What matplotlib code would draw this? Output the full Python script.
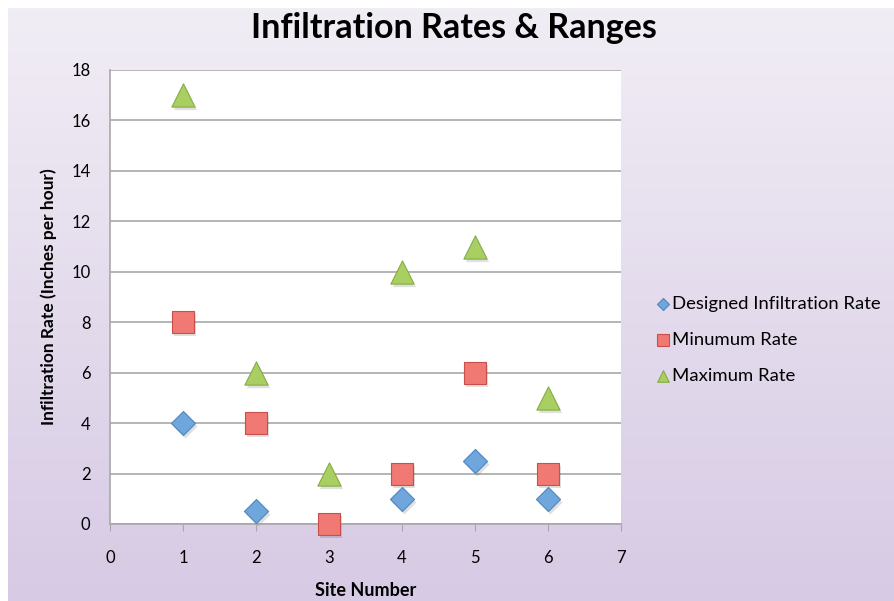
import numpy as np
import matplotlib
matplotlib.use("Agg")
import matplotlib.pyplot as plt

sites = [1, 2, 3, 4, 5, 6]
designed = [4, 0.5, np.nan, 1, 2.5, 1]
minimum = [8, 4, 0, 2, 6, 2]
maximum = [17, 6, 2, 10, 11, 5]

x_ticks = [0, 1, 2, 3, 4, 5, 6, 7]
y_ticks = [0, 2, 4, 6, 8, 10, 12, 14, 16, 18]

plt.rcParams['font.family'] = ['Lato', 'DejaVu Sans']

fig = plt.figure(figsize=(8.95, 6.01), dpi=100)

# background gradient (white strip on left/top like the original slide crop)
bg = fig.add_axes([8 / 895, -0.02, 1.01 - 8 / 895, 1.02 - 8 / 601])
grad = np.linspace(0, 1, 256).reshape(-1, 1)
top = np.array([0.945, 0.930, 0.960])
bot = np.array([0.840, 0.790, 0.895])
img = top + (bot - top) * grad[..., None]
bg.imshow(img, aspect='auto', extent=[0, 1, 0, 1])
bg.axis('off')

ax = fig.add_axes([110 / 895, 1 - 524 / 601, 511 / 895, 454 / 601])
ax.set_facecolor('white')
ax.set_xlim(0, 7)
ax.set_ylim(0, 18)
ax.set_xticks(x_ticks)
ax.set_yticks(y_ticks)
ax.grid(axis='y', color='#a8a8a8', linewidth=1.2)
ax.set_axisbelow(True)
for s in ['top', 'right']:
    ax.spines[s].set_visible(False)
ax.spines['left'].set_color('#a8a8a8')
ax.spines['bottom'].set_color('#a8a8a8')
ax.spines['left'].set_linewidth(1.2)
ax.spines['bottom'].set_linewidth(1.2)
ax.tick_params(axis='x', length=5, color='#a8a8a8', labelsize=12, pad=14)
ax.tick_params(axis='y', length=0, labelsize=12, pad=14)


def shadow(xs, ys, marker, size):
    ax.scatter(np.array(xs) + 0.03, np.array(ys) - 0.12, marker=marker, s=size,
               color='#000000', alpha=0.12, linewidths=0, zorder=2, clip_on=False)


shadow(sites, designed, 'D', 150)
shadow(sites, minimum, 's', 260)
shadow(sites, maximum, '^', 280)

ax.scatter(sites, designed, marker='D', s=150, color='#6fa6dc', edgecolors='#4f86bf',
           linewidths=0.8, zorder=3, clip_on=False, label='Designed Infiltration Rate')
ax.scatter(sites, minimum, marker='s', s=260, color='#f07a73', edgecolors='#c9504a',
           linewidths=0.8, zorder=4, clip_on=False, label='Minumum Rate')
ax.scatter(sites, maximum, marker='^', s=280, color='#a9cf62', edgecolors='#86ad45',
           linewidths=0.8, zorder=4, clip_on=False, label='Maximum Rate')

leg = ax.legend(loc='center left', bbox_to_anchor=(1.05, 0.405), frameon=False,
                fontsize=13.3, handletextpad=0.0, labelspacing=1.08,
                markerscale=0.5, borderaxespad=0.0, handlelength=1.0)

ax.set_xlabel('Site Number', fontsize=13, fontweight='bold', labelpad=11)
ax.set_ylabel('Infiltration Rate (Inches per hour)', fontsize=12.5,
              fontweight='bold', labelpad=10)

fig.text(454 / 895, 1 - 28 / 601, 'Infiltration Rates & Ranges', ha='center',
         va='center', fontsize=24.5, fontweight='bold')

fig.savefig('out.png', dpi=100)
